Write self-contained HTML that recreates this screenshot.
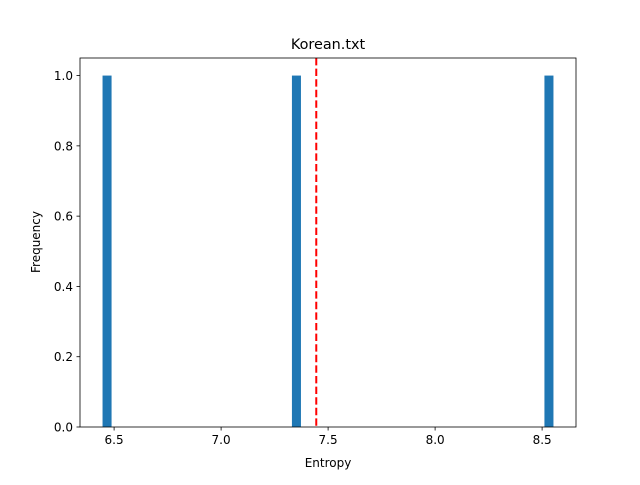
<!DOCTYPE html>
<html><head><meta charset="utf-8"><style>
body{margin:0;background:#fff;}
svg text{font-family:"DejaVu Sans","Liberation Sans",sans-serif;fill:#000;}
</style></head><body>
<svg id="chart" width="640" height="480" xmlns="http://www.w3.org/2000/svg">
<rect width="640" height="480" fill="#fff"/>
<g id="bars"></g>
<g id="xticks"></g>
<g id="yticks"></g>
<rect x="80" y="58" width="496" height="369" fill="none" stroke="#000" stroke-width="0.8"/>
<text x="328" y="49" font-size="14.4" text-anchor="middle">Korean.txt</text>
<text x="328" y="467" font-size="12" text-anchor="middle">Entropy</text>
<text x="40" y="242" font-size="12" text-anchor="middle" transform="rotate(-90 40 242)">Frequency</text>
</svg>
<script>
const entropyValues = [6.446, 7.335, 8.553];
const binCount = 50;
const xTicks = [6.5, 7.0, 7.5, 8.0, 8.5];
const xTickLabels = ["6.5", "7.0", "7.5", "8.0", "8.5"];
const yTicks = [0, 0.2, 0.4, 0.6, 0.8, 1.0];
const yTickLabels = ["0.0", "0.2", "0.4", "0.6", "0.8", "1.0"];

const NS = "http://www.w3.org/2000/svg";
const L = 80, R = 576, T = 58, B = 427;
const mn = Math.min(...entropyValues), mx = Math.max(...entropyValues);
const span = mx - mn || 1;
const x0 = mn - 0.05 * span, x1 = mx + 0.05 * span;
const bw = span / binCount;
const counts = new Array(binCount).fill(0);
entropyValues.forEach(v => { let i = Math.floor((v - mn) / bw); if (i >= binCount) i = binCount - 1; counts[i]++; });
const ymax = Math.max(...counts) * 1.05;
const xs = v => L + (v - x0) / (x1 - x0) * (R - L);
const ys = v => B - v / ymax * (B - T);
function mk(tag, attrs, parent) { const e = document.createElementNS(NS, tag); for (const k in attrs) e.setAttribute(k, attrs[k]); parent.appendChild(e); return e; }
const gb = document.getElementById('bars');
counts.forEach((c, i) => {
  if (!c) return;
  const a = mn + i * bw;
  const r = mk('rect', {x: xs(a), y: ys(c), width: xs(a + bw) - xs(a), height: B - ys(c), fill: '#1f77b4'}, gb);
  
  
});
const mean = entropyValues.reduce((s, v) => s + v, 0) / entropyValues.length;
const ml = mk('line', {x1: xs(mean), x2: xs(mean), y1: T, y2: B, stroke: '#ff0000', 'stroke-width': 2, 'stroke-dasharray': '7.4,3.2'}, gb);


const gx = document.getElementById('xticks');
xTicks.forEach((t, i) => {
  const x = xs(t);
  mk('line', {x1: x, x2: x, y1: B, y2: B + 3.5, stroke: '#000', 'stroke-width': 0.8}, gx);
  const tx = mk('text', {x: x, y: B + 17, 'font-size': 12, 'text-anchor': 'middle'}, gx);
  tx.textContent = xTickLabels[i];
  
  
});
const gy = document.getElementById('yticks');
yTicks.forEach((t, i) => {
  const y = ys(t);
  mk('line', {x1: L - 3.5, x2: L, y1: y, y2: y, stroke: '#000', 'stroke-width': 0.8}, gy);
  const tx = mk('text', {x: L - 7, y: y + 4.5, 'font-size': 12, 'text-anchor': 'end'}, gy);
  tx.textContent = yTickLabels[i];
  
  
});
</script>
</body></html>
